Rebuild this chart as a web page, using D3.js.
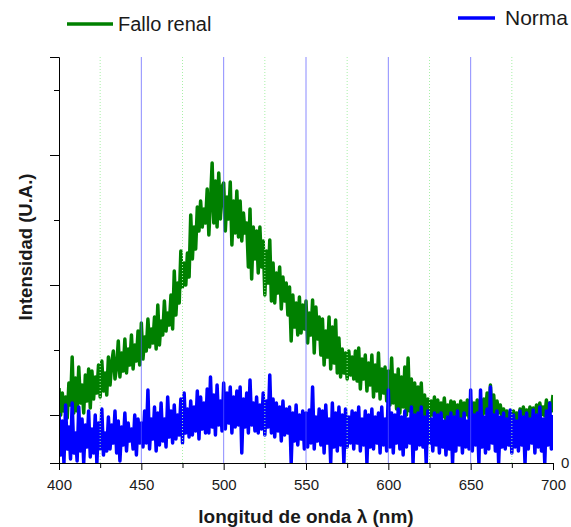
<!DOCTYPE html>
<html>
<head>
<meta charset="utf-8">
<script src="https://cdn.jsdelivr.net/npm/d3@7"></script>
<style>
  body { margin: 0; background: #fff; }
  svg { display: block; }
</style>
</head>
<body>
<svg id="chart" width="571" height="527"></svg>
<script>
// Emission spectra, intensity in arbitrary units, one sample per nm (400–700 nm)
const wavelength = d3.range(400, 701);

const falloRenal = [
  75, 48, 70, 52, 66, 45, 80, 58, 106, 50,
  85, 52, 96, 60, 78, 50, 88, 62, 94, 55,
  92, 64, 86, 70, 98, 66, 102, 72, 90, 68,
  106, 78, 100, 112, 84, 96, 122, 86, 110, 92,
  124, 90, 114, 98, 128, 94, 118, 102, 132, 98,
  140, 104, 126, 112, 144, 116, 134, 120, 146, 114,
  158, 118, 142, 128, 162, 132, 150, 138, 168, 134,
  192, 148, 180, 160, 212, 176, 200, 178, 210, 186,
  248, 204, 236, 214, 256, 232, 262, 236, 254, 240,
  274, 228, 262, 300, 240, 282, 236, 290, 244, 276,
  280, 232, 266, 244, 281, 218, 262, 230, 272, 226,
  262, 222, 250, 230, 240, 196, 254, 184, 236, 204,
  232, 190, 236, 196, 222, 168, 212, 180, 223, 162,
  200, 160, 190, 170, 196, 154, 186, 162, 180, 148,
  176, 122, 168, 136, 160, 128, 166, 130, 158, 134,
  162, 120, 150, 128, 163, 110, 156, 124, 146, 108,
  144, 98, 132, 106, 146, 94, 136, 100, 143, 90,
  125, 86, 114, 90, 110, 84, 112, 88, 106, 84,
  112, 82, 115, 74, 104, 84, 108, 72, 100, 78,
  108, 66, 98, 72, 110, 64, 94, 70, 96, 62,
  92, 58, 105, 60, 88, 54, 94, 50, 86, 56,
  96, 48, 105, 52, 84, 46, 80, 50, 76, 42,
  80, 42, 68, 46, 64, 44, 62, 48, 66, 42,
  63, 44, 60, 46, 65, 42, 58, 48, 62, 44,
  61, 44, 58, 46, 62, 43, 60, 48, 63, 45,
  62, 44, 60, 48, 63, 46, 61, 44, 64, 50,
  70, 46, 78, 48, 68, 44, 62, 50, 58, 46,
  54, 42, 52, 44, 50, 40, 52, 42, 50, 44,
  54, 42, 56, 45, 53, 43, 56, 44, 55, 46,
  58, 46, 60, 48, 56, 47, 63, 48, 60, 52,
  68
];

const normal = [
  50, 8, 42, 0, 58, 14, 36, 4, 60, 10,
  30, 2, 56, 12, 44, 0, 38, 16, 52, 6,
  34, 10, 48, 0, 40, 14, 54, 8, 30, 12,
  46, 14, 38, 20, 52, 10, 42, 2, 36, 18,
  50, 12, 40, 22, 34, 14, 48, 8, 44, 20,
  40, 16, 52, 20, 73, 14, 44, 24, 56, 12,
  50, 18, 60, 22, 44, 16, 66, 26, 52, 20,
  58, 24, 48, 28, 64, 20, 70, 30, 54, 26,
  62, 28, 56, 32, 72, 24, 66, 34, 60, 30,
  74, 30, 86, 36, 68, 28, 78, 38, 62, 32,
  80, 34, 70, 40, 76, 30, 66, 36, 72, 38,
  76, 10, 64, 36, 70, 30, 83, 38, 60, 32,
  66, 30, 58, 34, 70, 28, 62, 36, 88, 30,
  64, 26, 60, 32, 56, 22, 62, 28, 54, 30,
  56, 0, 50, 22, 58, 18, 48, 24, 52, 14,
  50, 16, 53, 20, 76, 14, 46, 22, 54, 18,
  52, 10, 58, 20, 44, 0, 60, 16, 50, 12,
  56, 18, 48, 0, 54, 16, 46, 20, 52, 14,
  50, 20, 56, 12, 44, 18, 52, 0, 48, 16,
  54, 14, 46, 20, 50, 10, 56, 18, 44, 12,
  73, 16, 50, 10, 48, 20, 54, 14, 46, 8,
  52, 16, 44, 20, 56, 0, 48, 14, 50, 18,
  56, 16, 46, 0, 52, 20, 44, 12, 50, 18,
  48, 10, 50, 16, 42, 8, 46, 14, 50, 0,
  46, 12, 52, 18, 44, 10, 50, 16, 42, 14,
  73, 12, 48, 18, 50, 0, 73, 16, 46, 10,
  54, 14, 76, 20, 48, 12, 52, 0, 46, 16,
  50, 14, 44, 18, 53, 10, 48, 16, 42, 12,
  52, 18, 46, 0, 50, 14, 44, 20, 53, 10,
  48, 16, 56, 12, 44, 0, 52, 18, 60, 14,
  48
];

const seriesNames = ["Fallo renal", "Norma"];
const xMajorTicks = [400, 450, 500, 550, 600, 650, 700];
const xMinorTicks = [425, 475, 525, 575, 625, 675];
const yMajorTicks = [48, 178, 308];
const yMinorTicks = [113, 243, 373];
const yZeroLabel = [0];

const svg = d3.select("#chart");
const W = 571, H = 527;
const margin = { top: 57, right: 18, bottom: 64, left: 59 };
const plotW = W - margin.left - margin.right;
const plotH = H - margin.top - margin.bottom;
const font = "'Liberation Sans', Arial, sans-serif";

const x = d3.scaleLinear().domain([400, 700]).range([margin.left, margin.left + plotW]);
const y = d3.scaleLinear().domain([0, 406]).range([margin.top + plotH, margin.top]);

svg.append("defs").append("clipPath").attr("id", "plot-clip")
  .append("rect")
  .attr("x", margin.left).attr("y", margin.top)
  .attr("width", plotW).attr("height", plotH);

const line = d3.line()
  .x((d, i) => x(wavelength[i]))
  .y(d => y(d));

const plot = svg.append("g").attr("clip-path", "url(#plot-clip)");

// renal-failure spectrum
plot.append("path")
  .datum(falloRenal)
  .attr("fill", "none")
  .attr("stroke", "#008000")
  .attr("stroke-width", 3.5)
  .attr("stroke-linejoin", "round")
  .attr("d", line);

// vertical grid: solid blue at major ticks, dotted green at minor ticks
const grid = svg.append("g");
grid.selectAll("line.major").data(xMajorTicks.slice(1, -1)).join("line")
  .attr("class", "major")
  .attr("x1", d => x(d)).attr("x2", d => x(d))
  .attr("y1", y(406)).attr("y2", y(0))
  .attr("stroke", "#5a5aff").attr("stroke-opacity", 0.7).attr("stroke-width", 1);
grid.selectAll("line.minor").data(xMinorTicks).join("line")
  .attr("class", "minor")
  .attr("x1", d => x(d)).attr("x2", d => x(d))
  .attr("y1", y(406)).attr("y2", y(0))
  .attr("stroke", "#a8f0a8").attr("stroke-width", 1)
  .attr("stroke-dasharray", "1,2");

// control spectrum
plot.append("path")
  .datum(normal)
  .attr("fill", "none")
  .attr("stroke", "#0000ff")
  .attr("stroke-width", 3.5)
  .attr("stroke-linejoin", "round")
  .attr("d", line);

// axes
svg.append("g")
  .attr("transform", `translate(0,${margin.top + plotH})`)
  .call(d3.axisBottom(x).tickValues(xMajorTicks).tickSize(7).tickPadding(9).tickFormat(d3.format("d")));
svg.append("g")
  .attr("transform", `translate(0,${margin.top + plotH})`)
  .call(d3.axisBottom(x).tickValues(xMinorTicks).tickSize(5).tickFormat(""))
  .call(g => g.select(".domain").remove());

svg.append("g")
  .attr("transform", `translate(${margin.left},0)`)
  .call(d3.axisLeft(y).tickValues(yMajorTicks).tickSize(9).tickFormat(""));
svg.append("g")
  .attr("transform", `translate(${margin.left},0)`)
  .call(d3.axisLeft(y).tickValues(yMinorTicks).tickSize(5).tickFormat(""))
  .call(g => g.select(".domain").remove());

// right-hand zero label
svg.append("g")
  .attr("transform", `translate(${margin.left + plotW},0)`)
  .call(d3.axisRight(y).tickValues(yZeroLabel).tickSize(0).tickPadding(8).tickFormat(d3.format("d")))
  .call(g => g.select(".domain").remove());

svg.selectAll(".tick text")
  .attr("font-family", font)
  .attr("font-size", 15)
  .attr("fill", "#1a1a1a");
svg.selectAll(".domain, .tick line").attr("stroke", "#000");

// axis titles
svg.append("text")
  .attr("x", (x(400) + x(700)) / 2)
  .attr("y", 523)
  .attr("text-anchor", "middle")
  .attr("font-family", font)
  .attr("font-weight", "bold")
  .attr("font-size", 19)
  .attr("fill", "#1a1a1a")
  .text("longitud de onda λ (nm)");

svg.append("text")
  .attr("transform", "translate(32,247) rotate(-90)")
  .attr("text-anchor", "middle")
  .attr("font-family", font)
  .attr("font-weight", "bold")
  .attr("font-size", 18.5)
  .attr("fill", "#1a1a1a")
  .text("Intensidad (U.A.)");

// legend
const legend = [
  { name: seriesNames[0], color: "#008000", x1: 67, x2: 113, ly: 24, tx: 118, ty: 31, size: 20 },
  { name: seriesNames[1], color: "#0000ff", x1: 458, x2: 495, ly: 18, tx: 505, ty: 25, size: 21 }
];
const lg = svg.append("g");
lg.selectAll("line").data(legend).join("line")
  .attr("x1", d => d.x1).attr("x2", d => d.x2)
  .attr("y1", d => d.ly).attr("y2", d => d.ly)
  .attr("stroke", d => d.color).attr("stroke-width", 3.5);
lg.selectAll("text").data(legend).join("text")
  .attr("x", d => d.tx).attr("y", d => d.ty)
  .attr("font-family", font)
  .attr("font-size", d => d.size)
  .attr("fill", "#1a1a1a")
  .text(d => d.name);
</script>
</body>
</html>
